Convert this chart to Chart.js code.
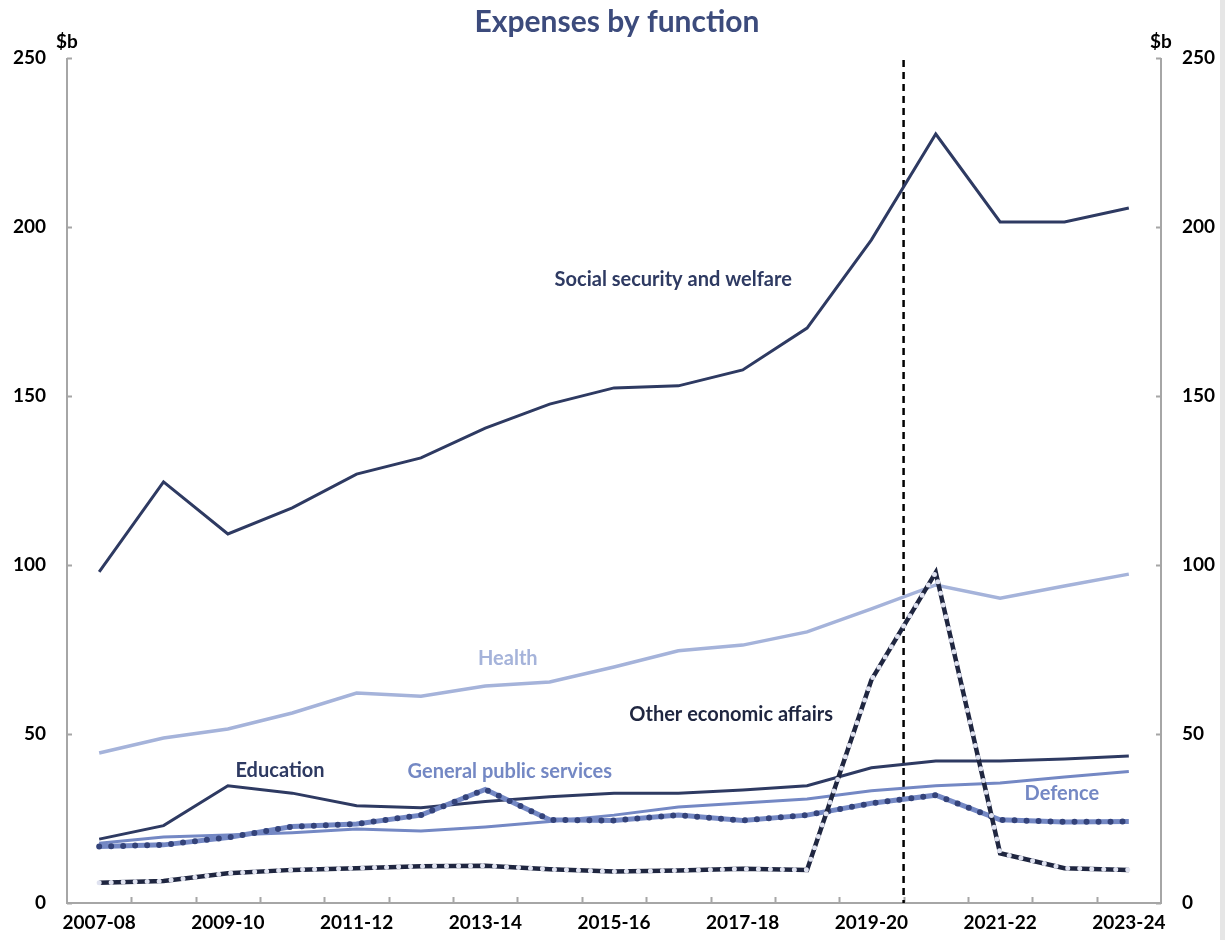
<!DOCTYPE html>
<html>
<head>
<meta charset="utf-8">
<script src="https://cdn.jsdelivr.net/npm/chart.js@4.4.1/dist/chart.umd.min.js"></script>
<style>
  html, body { margin: 0; padding: 0; background: #e6e6e6; }
  #wrap { position: absolute; left: 0; top: 0; width: 1220px; height: 940px; background: #ffffff; }
</style>
</head>
<body>
<div id="wrap"><canvas id="c"></canvas></div>
<script>
const categories = ['2007-08','2008-09','2009-10','2010-11','2011-12','2012-13','2013-14','2014-15','2015-16','2016-17','2017-18','2018-19','2019-20','2020-21','2021-22','2022-23','2023-24'];
const socialSecurity = [98, 124.6, 109.2, 116.9, 126.9, 131.7, 140.5, 147.6, 152.4, 153.0, 157.7, 170.1, 196.2, 227.5, 201.5, 201.5, 205.6];
const health = [44.4, 48.8, 51.5, 56.2, 62.1, 61.2, 64.2, 65.4, 69.8, 74.6, 76.3, 80.2, 87.0, 94.1, 90.2, 93.8, 97.3];
const education = [18.9, 22.9, 34.7, 32.5, 28.8, 28.2, 30.0, 31.4, 32.5, 32.5, 33.4, 34.7, 40.0, 42.0, 42.0, 42.6, 43.5];
const defence = [17.7, 19.5, 20.1, 20.8, 21.9, 21.3, 22.5, 24.1, 26.0, 28.4, 29.6, 30.8, 33.2, 34.7, 35.5, 37.3, 38.9];
const generalPublicServices = [16.7, 17.2, 19.4, 22.6, 23.4, 26.0, 33.6, 24.6, 24.4, 26.0, 24.4, 26.0, 29.5, 31.9, 24.6, 24.0, 24.1];
const otherEconomicAffairs = [6.0, 6.5, 8.8, 9.8, 10.3, 10.9, 11.0, 10.0, 9.3, 9.6, 10.1, 9.8, 66.0, 97.8, 14.7, 10.3, 9.8];
const yTicks = [0, 50, 100, 150, 200, 250];
const forecastBoundary = 12.5;
const seriesLabels = [
  { text: 'Social security and welfare', x: 8.92, y: 184.6, color: '#2e3a62' },
  { text: 'Health', x: 6.35, y: 72.2, color: '#a5b3da' },
  { text: 'Other economic affairs', x: 9.82, y: 55.9, color: '#1f2640' },
  { text: 'Education', x: 2.81, y: 39.3, color: '#2e3a62' },
  { text: 'General public services', x: 6.38, y: 38.8, color: '#7488c4' },
  { text: 'Defence', x: 14.96, y: 32.5, color: '#7488c4' }
];

const FONT = 'Lato, "Open Sans", sans-serif';
const AXIS_GREY = '#a6a6a6';

const decor = {
  id: 'decor',
  beforeDatasetsDraw(chart) {
    const ctx = chart.ctx, a = chart.chartArea;
    const x = chart.scales.x, y = chart.scales.y;
    ctx.save();
    ctx.strokeStyle = AXIS_GREY;
    ctx.lineWidth = 2;
    ctx.beginPath();
    ctx.moveTo(a.left, a.top); ctx.lineTo(a.left, a.bottom); ctx.lineTo(a.right, a.bottom); ctx.lineTo(a.right, a.top);
    ctx.stroke();
    ctx.beginPath();
    yTicks.forEach(v => {
      const py = Math.round(y.getPixelForValue(v)) + 0.5;
      ctx.moveTo(a.left, py); ctx.lineTo(a.left + 5, py);
      ctx.moveTo(a.right, py); ctx.lineTo(a.right - 5, py);
    });
    for (let i = 0; i < categories.length - 1; i++) {
      const px = Math.round((x.getPixelForValue(i) + x.getPixelForValue(i + 1)) / 2) + 0.5;
      ctx.moveTo(px, a.bottom); ctx.lineTo(px, a.bottom - 6);
    }
    ctx.stroke();
    const i0 = Math.floor(forecastBoundary), i1 = Math.ceil(forecastBoundary);
    const fx = x.getPixelForValue(i0) + (x.getPixelForValue(i1) - x.getPixelForValue(i0)) * (forecastBoundary - i0);
    ctx.strokeStyle = '#000000';
    ctx.lineWidth = 2.5;
    ctx.setLineDash([7, 5]);
    ctx.beginPath();
    ctx.moveTo(fx, a.top + 2); ctx.lineTo(fx, a.bottom);
    ctx.stroke();
    ctx.restore();
  },
  afterDraw(chart) {
    const ctx = chart.ctx, a = chart.chartArea;
    const x = chart.scales.x, y = chart.scales.y;
    ctx.save();
    ctx.textAlign = 'center';
    ctx.textBaseline = 'middle';
    ctx.fillStyle = '#3c4b7c';
    ctx.font = 'bold 30px ' + FONT;
    ctx.fillText('Expenses by function', 617, 22);
    ctx.fillStyle = '#000000';
    ctx.font = 'bold 19px ' + FONT;
    ctx.fillText('$b', a.left, 42);
    ctx.fillText('$b', a.right, 42);
    ctx.font = 'bold 20px ' + FONT;
    seriesLabels.forEach(l => {
      ctx.fillStyle = l.color;
      ctx.fillText(l.text, x.getPixelForValue(l.x), y.getPixelForValue(l.y));
    });
    ctx.restore();
  }
};

const tickFont = { family: FONT, size: 19, weight: 'bold' };

new Chart(document.getElementById('c'), {
  type: 'line',
  data: {
    labels: categories,
    datasets: [
      { label: 'Other economic affairs (dots)', data: otherEconomicAffairs, borderColor: '#dfe2f0', borderWidth: 5, borderDash: [0, 12], borderCapStyle: 'round', pointRadius: 0, tension: 0, order: 0 },
      { label: 'Other economic affairs', data: otherEconomicAffairs, borderColor: '#1f2640', borderWidth: 4.5, pointRadius: 0, tension: 0, order: 1 },
      { label: 'General public services (dots)', data: generalPublicServices, borderColor: '#34437a', borderWidth: 6, borderDash: [0, 12], borderCapStyle: 'round', pointRadius: 0, tension: 0, order: 2 },
      { label: 'General public services', data: generalPublicServices, borderColor: '#7488c4', borderWidth: 5, pointRadius: 0, tension: 0, order: 3 },
      { label: 'Defence', data: defence, borderColor: '#7488c4', borderWidth: 3, pointRadius: 0, tension: 0, order: 4 },
      { label: 'Education', data: education, borderColor: '#2e3a62', borderWidth: 3, pointRadius: 0, tension: 0, order: 5 },
      { label: 'Health', data: health, borderColor: '#a5b3da', borderWidth: 3.5, pointRadius: 0, tension: 0, order: 6 },
      { label: 'Social security and welfare', data: socialSecurity, borderColor: '#2e3a62', borderWidth: 3, pointRadius: 0, tension: 0, order: 7 }
    ]
  },
  options: {
    responsive: true,
    maintainAspectRatio: false,
    animation: false,
    layout: { padding: { top: 58, left: 0, right: 0, bottom: 0 } },
    plugins: { legend: { display: false }, title: { display: false }, tooltip: { enabled: false } },
    scales: {
      x: {
        type: 'category',
        offset: true,
        grid: { display: false, drawTicks: false },
        border: { display: false },
        ticks: {
          autoSkip: false, maxRotation: 0, color: '#000000', font: tickFont, padding: 8,
          callback: (v, i) => (i % 2 === 0 ? categories[i] : '')
        },
        afterFit: s => { s.height = 37; }
      },
      y: {
        position: 'left', min: 0, max: 250,
        afterBuildTicks: s => { s.ticks = yTicks.map(v => ({ value: v })); },
        grid: { display: false, drawTicks: false },
        border: { display: false },
        ticks: { color: '#000000', font: tickFont, padding: 21 },
        afterFit: s => { s.width = 67; }
      },
      y1: {
        position: 'right', min: 0, max: 250,
        afterBuildTicks: s => { s.ticks = yTicks.map(v => ({ value: v })); },
        grid: { display: false, drawTicks: false },
        border: { display: false },
        ticks: { color: '#000000', font: tickFont, padding: 21 },
        afterFit: s => { s.width = 59; }
      }
    }
  },
  plugins: [decor]
});
</script>
</body>
</html>
